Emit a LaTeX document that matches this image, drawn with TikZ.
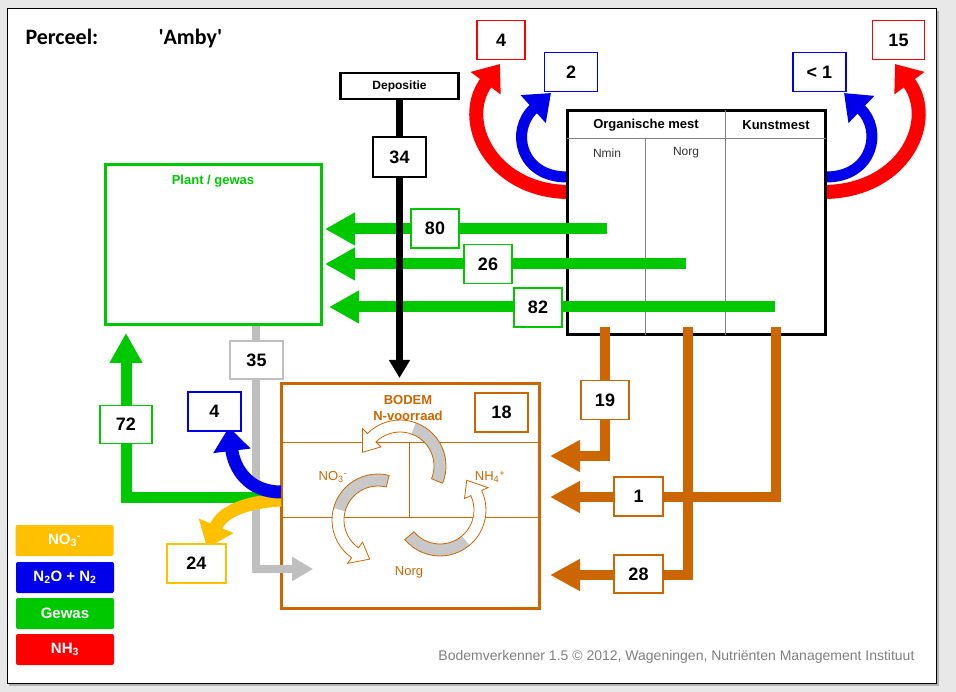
\documentclass[tikz,border=0pt]{standalone}
\usepackage{fontspec}
\setmainfont{Liberation Sans}
\newfontfamily\kopfont{Carlito}
\usetikzlibrary{arrows.meta,positioning,calc}

\definecolor{achtergrond}{RGB}{232,232,232}
\definecolor{gewas}{RGB}{0,200,0}
\definecolor{nitraat}{RGB}{255,192,0}
\definecolor{lachgas}{RGB}{0,0,235}
\definecolor{ammoniak}{RGB}{255,0,0}
\definecolor{bodemkl}{RGB}{204,102,0}
\definecolor{lichtgrijs}{RGB}{191,191,191}
\definecolor{kringgrijs}{RGB}{200,200,200}

\tikzset{
  getal/.style={draw=#1, fill=white, line width=1.5pt, minimum width=48pt,
    minimum height=39pt, inner sep=0pt, font=\fontsize{18}{20}\selectfont\bfseries},
  legenda/.style={fill=#1, rounded corners=2pt, minimum width=98pt, minimum height=31pt,
    inner sep=0pt, text=white, font=\fontsize{15}{17}\selectfont\bfseries},
  gewaspijl/.style={draw=gewas, line width=11pt, -{Triangle[length=30pt,width=31pt]}},
  mestpijl/.style={draw=bodemkl, line width=10pt, -{Triangle[length=30pt,width=30pt]}},
  grijspijl/.style={draw=lichtgrijs, line width=8pt, -{Triangle[length=21pt,width=23pt]}},
  deppijl/.style={draw=black, line width=7pt, -{Triangle[length=18pt,width=20pt]}},
  boogpijl/.style={line width=#1, -{Triangle[length=24pt,width=36pt]}},
  kolomlijn/.style={draw=gray, line width=0.8pt},
  bodemtekst/.style={text=bodemkl, font=\fontsize{13}{15}\selectfont},
}

% ring arrow in the soil box: cx, cy, start, body end, tip
\newcommand{\kringvorm}[5]{%
  plot[domain=#3:#4,samples=25] ({#1+46*cos(\x)},{#2+46*sin(\x)})
  -- ({#1+53*cos(#4)},{#2+53*sin(#4)})
  -- ({#1+40*cos(#5)},{#2+40*sin(#5)})
  -- ({#1+27*cos(#4)},{#2+27*sin(#4)})
  -- plot[domain=#4:#3,samples=25] ({#1+34*cos(\x)},{#2+34*sin(\x)})
  -- cycle}
\newcommand{\kringband}[4]{%
  plot[domain=#3:#4,samples=15] ({#1+46*cos(\x)},{#2+46*sin(\x)})
  -- plot[domain=#4:#3,samples=15] ({#1+34*cos(\x)},{#2+34*sin(\x)})
  -- cycle}

\begin{document}
\begin{tikzpicture}[x=1pt,y=-1pt]
\useasboundingbox (0,0) rectangle (956,692);
\fill[achtergrond] (0,0) rectangle (956,692);
\fill[gray!60] (9,11) rectangle (939,686);
\draw[fill=white,line width=1pt] (7,9) rectangle (936,683);

\node[anchor=west,font=\kopfont\fontsize{22}{24}\selectfont\bfseries] (perceel) at (22,37) {Perceel:};
\node[anchor=west,font=\kopfont\fontsize{22}{24}\selectfont\bfseries] (naam) at (155,39)
      {\textquotesingle Amby\textquotesingle};

% emissie uit mest
\draw[boogpijl=14pt,draw=ammoniak] (567,192) .. controls (490,190) and (458,120) .. (500,64);
\draw[boogpijl=11pt,draw=lachgas] (567,177) .. controls (520,177) and (510,130) .. (551,93);
\draw[boogpijl=11pt,draw=lachgas] (826,177) .. controls (873,177) and (883,130) .. (844,93);
\draw[boogpijl=14pt,draw=ammoniak] (826,192) .. controls (905,190) and (937,120) .. (895,64);

% mest tabel
\node[draw,line width=3pt,fill=white,minimum width=258pt,minimum height=224pt,inner sep=0pt]
      (mest) at (696.5,222.5) {};
\draw[kolomlijn] (567,138) -- (826,138);
\draw[kolomlijn] (725,110) -- (725,335);
\draw[kolomlijn] (645,138) -- (645,335);
\node[font=\fontsize{13}{15}\selectfont\bfseries] (orgmest) at (646,125) {Organische mest};
\node[font=\fontsize{13}{15}\selectfont\bfseries] (kunstmest) at (776,125) {Kunstmest};
\node[font=\fontsize{12}{14}\selectfont,text=black!80] (nmin) at (607,153) {Nmin};
\node[font=\fontsize{12}{14}\selectfont,text=black!80] (norg) at (686,153) {Norg};

% plant
\node[draw=gewas,line width=3pt,minimum width=216pt,minimum height=160pt,inner sep=0pt]
      (plant) at (213,245) {};
\node[text=gewas,font=\fontsize{13}{15}\selectfont\bfseries] (planttitel) at (213,181) {Plant / gewas};

% opname door gewas
\coordinate (g1) at (607,229);
\coordinate (g2) at (686,264);
\coordinate (g3) at (775,307);
\draw[gewaspijl] (g1) -- (325,229);
\draw[gewaspijl] (g2) -- (325,264);
\draw[gewaspijl] (g3) -- (329,307);

% mest naar bodem
\draw[mestpijl] (605,327) -- (605,456) -- (550,456);
\draw[mestpijl] (776,327) -- (776,497) -- (550,497);
\draw[mestpijl] (688,327) -- (688,575) -- (550,575);

% depositie
\node[draw,line width=2.5pt,fill=white,minimum width=118pt,minimum height=26pt,inner sep=0pt,
      font=\fontsize{12}{14}\selectfont\bfseries] (depositie) at (399.5,86) {Depositie};
\draw[deppijl] (depositie.south) -- (depositie.south |- 0,378);

% bodem
\node[draw=bodemkl,line width=3pt,fill=white,minimum width=258pt,minimum height=224pt,inner sep=0pt]
      (bodem) at (410,496) {};
\draw[bodemkl,line width=0.8pt] (281,442) -- (539,442);
\draw[bodemkl,line width=0.8pt] (281,517) -- (539,517);
\draw[bodemkl,line width=0.8pt] (409,442) -- (409,517);
\node[bodemtekst,font=\fontsize{13}{15}\selectfont\bfseries] (bodemtitel) at (408,400) {BODEM};
\node[bodemtekst,font=\fontsize{13}{15}\selectfont\bfseries] (voorraad) at (408,416) {N-voorraad};
\node[bodemtekst] (no3) at (333,477) {NO\textsubscript{3}\textsuperscript{-}};
\node[bodemtekst] (nh4) at (490,477) {NH\textsubscript{4}\textsuperscript{+}};
\node[bodemtekst] (norgb) at (409,572) {Norg};

\fill[white] \kringvorm{400}{466}{22}{-135}{-160};
\fill[kringgrijs] \kringband{400}{466}{22}{-70};
\draw[bodemkl,line width=0.8pt] \kringvorm{400}{466}{22}{-135}{-160};
\fill[white] \kringvorm{378}{520}{-76}{-235}{-258};
\fill[kringgrijs] \kringband{378}{520}{-76}{-165};
\draw[bodemkl,line width=0.8pt] \kringvorm{378}{520}{-76}{-235}{-258};
\fill[white] \kringvorm{440}{510}{140}{-25}{-48};
\fill[kringgrijs] \kringband{440}{510}{140}{50};
\draw[bodemkl,line width=0.8pt] \kringvorm{440}{510}{140}{-25}{-48};

% gewas en verliezen links
\draw[grijspijl] (plant.south -| 256,0) -- (256,569) -- (313,569);
\draw[gewaspijl] (276,497) -- (126,497) -- (126,333);
\draw[boogpijl=13pt,draw=nitraat] (281,500) .. controls (245,502) and (222,512) .. (207,548);
\draw[boogpijl=13pt,draw=lachgas] (281,492) .. controls (248,492) and (234,468) .. (229,427);

% getallen
\node[getal=ammoniak] (n4) at (501,40) {4};
\node[getal=lachgas,minimum width=53pt] (n2) at (571,72) {2};
\node[getal=lachgas,minimum width=53pt] (nlt1) at (819.5,72) {< 1};
\node[getal=ammoniak,minimum width=52pt] (n15) at (898.5,40) {15};
\node[getal=black,minimum width=53pt,minimum height=40pt] (n34) at (399.5,157) {34};
\node[getal=gewas] (n80) at (435,228.5) {80};
\node[getal=gewas] (n26) at (488,264) {26};
\node[getal=gewas] (n82) at (538,307.5) {82};
\node[getal=gewas,minimum width=52pt,minimum height=38pt] (n72) at (126,424.5) {72};
\node[getal=lichtgrijs,minimum width=53pt,minimum height=38pt] (n35) at (256.5,360) {35};
\node[getal=lachgas,minimum width=53pt] (nb4) at (214.5,411.5) {4};
\node[getal=nitraat,minimum width=59pt] (n24) at (196.5,563.5) {24};
\node[getal=bodemkl,minimum width=53pt] (n18) at (501.5,412.5) {18};
\node[getal=bodemkl] (n19) at (605,400) {19};
\node[getal=bodemkl,minimum width=49pt] (n1) at (638.5,496.5) {1};
\node[getal=bodemkl,minimum width=49pt,minimum height=38pt] (n28) at (638.5,574) {28};

% legenda
\node[legenda=nitraat] (lno3) at (64.5,540.5) {NO\textsubscript{3}\textsuperscript{-}};
\node[legenda=lachgas] (ln2o) at (65,577.5) {N\textsubscript{2}O + N\textsubscript{2}};
\node[legenda=gewas] (lgewas) at (65,613.5) {Gewas};
\node[legenda=ammoniak] (lnh3) at (65,649.5) {NH\textsubscript{3}};

\node[anchor=east,text=gray,font=\fontsize{14}{16}\selectfont] (voet) at (918,657)
      {Bodemverkenner 1.5 © 2012, Wageningen, Nutriënten Management Instituut};
\end{tikzpicture}
\end{document}
